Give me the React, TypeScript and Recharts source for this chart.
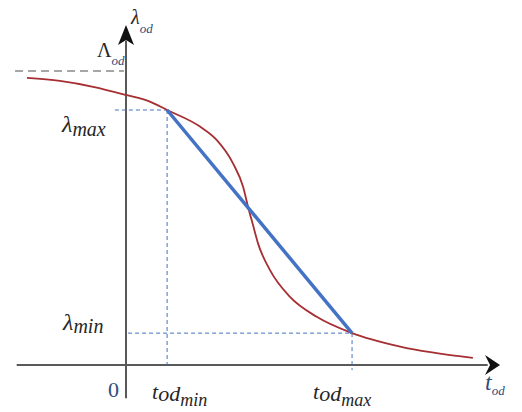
import { LineChart, Line, XAxis, YAxis, ReferenceLine, ReferenceDot } from 'recharts';

// characteristic points (t in arbitrary time units, lambda in arbitrary rate units)
const T_OD_MIN = 1;
const T_OD_MAX = 5.5;
const LAMBDA_MAX = 10;
const LAMBDA_MIN = 1.25;
const LAMBDA_CAP = 11.53;

// red sigmoid curve
const curveT = [-2.41, -1.61, -0.8, 0, 0.58, 1, 1.8, 2.21, 2.6, 2.85, 2.97, 3.09, 3.21, 3.5, 3.99, 4.64, 5.5, 6.67, 8.44];
const curveLambda = [11.26, 11.14, 10.91, 10.59, 10.33, 10, 9.35, 8.82, 7.92, 6.98, 6.2, 5.49, 4.78, 3.73, 2.67, 1.89, 1.25, 0.72, 0.28];

// linear approximation between the two characteristic points
const approxT = [T_OD_MIN, T_OD_MAX];
const approxLambda = [LAMBDA_MAX, LAMBDA_MIN];

const X_DOMAIN = [-3.066, 9.635];
const Y_DOMAIN = [-1.843, 14.314];
const X_AXIS_START = -2.66;
const X_ARROW_TIP = 9.1;
const Y_AXIS_START = -1.3;
const Y_ARROW_TIP = 13.33;

const curveData = curveT.map((t, i) => ({ t, lambda: curveLambda[i] }));
const approxData = approxT.map((t, i) => ({ t, lambda: approxLambda[i] }));

const RED = '#a52f32';
const BLUE = '#4472c4';
const AXIS = '#595959';
const INK = '#262626';
const NAVY = '#2e4c7c';
const FONT = '"Liberation Serif", "DejaVu Serif", serif';

type Part = { s: string; size: number; dy?: number; color?: string; italic?: boolean };

const mkLabel = (parts: Part[], dx: number, dy: number) => (props: any) => {
  const { cx, cy } = props;
  return (
    <text x={cx + dx} y={cy + dy} fontFamily={FONT}>
      {parts.map((p, i) => (
        <tspan
          key={i}
          dy={p.dy ?? 0}
          fontSize={p.size}
          fill={p.color ?? INK}
          fontStyle={p.italic === false ? 'normal' : 'italic'}
        >
          {p.s}
        </tspan>
      ))}
    </text>
  );
};

const arrowRight = (props: any) => {
  const { cx, cy } = props;
  return <path d={`M${cx},${cy} L${cx - 15},${cy - 10} L${cx - 10},${cy} L${cx - 15},${cy + 10} Z`} fill="#111" />;
};

const arrowUp = (props: any) => {
  const { cx, cy } = props;
  return <path d={`M${cx},${cy} L${cx - 8},${cy + 20} L${cx},${cy + 15} L${cx + 8},${cy + 20} Z`} fill="#111" />;
};

export default function App() {
  return (
    <div style={{ position: 'absolute', left: 0, top: 0, width: 522, height: 412, background: '#fff' }}>
      <LineChart width={522} height={412} margin={{ top: 0, right: 0, bottom: 0, left: 0 }}>
        <XAxis type="number" dataKey="t" domain={X_DOMAIN} allowDataOverflow hide />
        <YAxis type="number" dataKey="lambda" domain={Y_DOMAIN} allowDataOverflow hide />

        {/* axes */}
        <ReferenceLine
          segment={[{ x: X_AXIS_START, y: 0 }, { x: X_ARROW_TIP - 0.3, y: 0 }]}
          stroke={AXIS}
          strokeWidth={2}
          ifOverflow="visible"
        />
        <ReferenceLine
          segment={[{ x: 0, y: Y_AXIS_START }, { x: 0, y: Y_ARROW_TIP - 0.6 }]}
          stroke={AXIS}
          strokeWidth={2}
          ifOverflow="visible"
        />
        <ReferenceDot x={X_ARROW_TIP} y={0} ifOverflow="visible" shape={arrowRight} />
        <ReferenceDot x={0} y={Y_ARROW_TIP} ifOverflow="visible" shape={arrowUp} />

        {/* asymptote */}
        <ReferenceLine
          segment={[{ x: -2.7, y: LAMBDA_CAP }, { x: -0.05, y: LAMBDA_CAP }]}
          stroke="#a6a6a6"
          strokeWidth={2}
          strokeDasharray="8 5"
          ifOverflow="visible"
        />

        {/* guides */}
        <ReferenceLine
          segment={[{ x: -0.27, y: LAMBDA_MAX }, { x: T_OD_MIN, y: LAMBDA_MAX }]}
          stroke={BLUE}
          strokeDasharray="4 3"
          ifOverflow="visible"
        />
        <ReferenceLine
          segment={[{ x: T_OD_MIN, y: LAMBDA_MAX }, { x: T_OD_MIN, y: 0 }]}
          stroke={BLUE}
          strokeDasharray="4 3"
          ifOverflow="visible"
        />
        <ReferenceLine
          segment={[{ x: 0.05, y: LAMBDA_MIN }, { x: T_OD_MAX, y: LAMBDA_MIN }]}
          stroke={BLUE}
          strokeDasharray="4 3"
          ifOverflow="visible"
        />
        <ReferenceLine
          segment={[{ x: T_OD_MAX, y: LAMBDA_MIN }, { x: T_OD_MAX, y: -0.2 }]}
          stroke={BLUE}
          strokeDasharray="4 3"
          ifOverflow="visible"
        />

        <Line
          data={curveData}
          dataKey="lambda"
          type="monotone"
          stroke={RED}
          strokeWidth={1.8}
          dot={false}
          activeDot={false}
          isAnimationActive={false}
        />
        <Line
          data={approxData}
          dataKey="lambda"
          type="linear"
          stroke={BLUE}
          strokeWidth={3.5}
          dot={false}
          activeDot={false}
          isAnimationActive={false}
        />

        {/* labels */}
        <ReferenceDot
          x={0}
          y={Y_ARROW_TIP}
          ifOverflow="visible"
          shape={mkLabel([{ s: 'λ', size: 20 }, { s: 'od', size: 13, dy: 9, color: NAVY }], 5, -1)}
        />
        <ReferenceDot
          x={0}
          y={LAMBDA_CAP}
          ifOverflow="visible"
          shape={mkLabel([{ s: 'Λ', size: 20, italic: false }, { s: 'od', size: 13, dy: 8, color: NAVY }], -29, -14)}
        />
        <ReferenceDot
          x={0}
          y={LAMBDA_MAX}
          ifOverflow="visible"
          shape={mkLabel([{ s: 'λ', size: 24 }, { s: 'max', size: 20, dy: 4 }], -64, 22)}
        />
        <ReferenceDot
          x={0}
          y={LAMBDA_MIN}
          ifOverflow="visible"
          shape={mkLabel([{ s: 'λ', size: 24 }, { s: 'min', size: 20, dy: 3 }], -63, -3)}
        />
        <ReferenceDot
          x={0}
          y={0}
          ifOverflow="visible"
          shape={mkLabel([{ s: '0', size: 22, italic: false, color: NAVY }], -18, 32)}
        />
        <ReferenceDot
          x={T_OD_MIN}
          y={0}
          ifOverflow="visible"
          shape={mkLabel([{ s: 't', size: 22 }, { s: 'od', size: 22, dy: 2 }, { s: 'min', size: 18, dy: 5 }], -15, 34)}
        />
        <ReferenceDot
          x={T_OD_MAX}
          y={0}
          ifOverflow="visible"
          shape={mkLabel([{ s: 't', size: 22 }, { s: 'od', size: 22, dy: 2 }, { s: 'max', size: 18, dy: 5 }], -39, 34)}
        />
        <ReferenceDot
          x={X_ARROW_TIP}
          y={0}
          ifOverflow="visible"
          shape={mkLabel([{ s: 't', size: 24, color: NAVY }, { s: 'od', size: 13, dy: 5, color: NAVY }], -15, 25)}
        />
      </LineChart>
    </div>
  );
}
